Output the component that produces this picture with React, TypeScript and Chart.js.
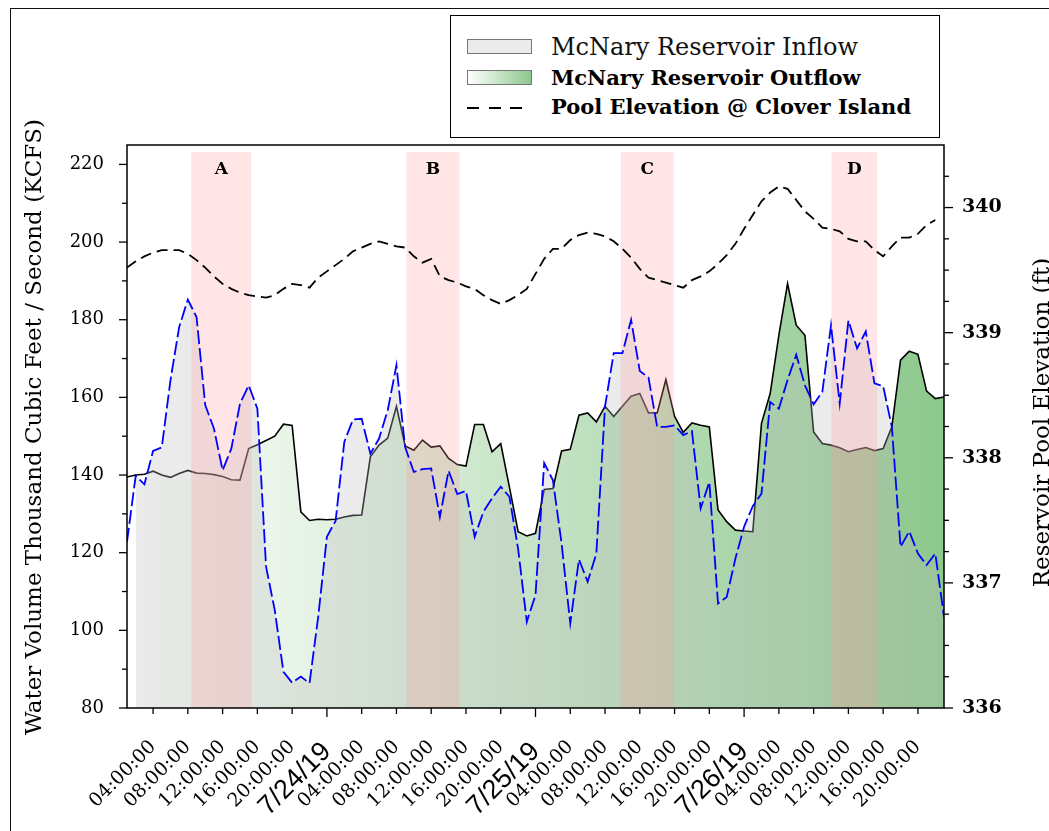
import React, { useEffect, useRef } from "react";
import { Chart, registerables } from "chart.js";

Chart.register(...registerables);

// Hourly readings; hour 1 = 7/23/19 01:00, last hour 95 = 7/26/19 23:00
const FIRST_HOUR = 1;
const LAST_HOUR = 95;

// McNary Reservoir outflow (KCFS), hours 1..95
const OUTFLOW_KCFS = [
  139.5, 140.0, 140.2, 141.0, 140.0, 139.4, 140.4, 141.2, 140.5, 140.4,
  140.1, 139.6, 138.8, 138.7, 146.8, 147.8, 148.9, 150.0, 153.1, 152.8,
  130.5, 128.3, 128.6, 128.5, 128.6, 129.2, 129.6, 129.7, 144.7, 147.7,
  149.5, 157.7, 147.5, 146.4, 149.0, 147.2, 147.5, 144.3, 142.7, 142.3,
  153.0, 153.0, 146.0, 148.1, 136.9, 125.4, 124.3, 125.0, 136.3, 136.5,
  146.2, 146.6, 155.4, 156.0, 153.7, 157.7, 155.1, 157.7, 160.3, 161.0,
  156.0, 156.0, 164.6, 155.1, 151.0, 153.4, 152.8, 152.4, 131.0, 128.0,
  125.8, 125.6, 125.4, 153.3, 161.0, 176.0, 189.3, 178.6, 176.0, 151.1,
  148.1, 147.7, 147.0, 146.0, 146.6, 147.1, 146.3, 146.8, 152.4, 169.6,
  171.9, 171.1, 161.6, 159.7, 160.1,
];

// McNary Reservoir inflow (KCFS), hours 1..95
const INFLOW_KCFS = [
  122.8, 139.8, 137.6, 146.2, 147.1, 164.4, 178.1, 185.2, 180.7, 158.0,
  152.0, 141.2, 146.8, 158.4, 163.1, 157.1, 116.4, 105.2, 89.3, 86.5,
  88.1, 86.4, 103.5, 124.1, 128.2, 148.5, 154.3, 154.5, 145.5, 149.4,
  156.7, 168.3, 147.2, 140.8, 141.5, 141.7, 129.2, 141.1, 135.1, 135.9,
  124.1, 130.5, 134.0, 137.0, 134.4, 121.0, 102.2, 109.1, 143.1, 138.7,
  122.4, 101.8, 118.3, 112.5, 119.8, 157.7, 171.4, 171.4, 180.0, 166.8,
  165.1, 152.4, 152.4, 152.8, 150.3, 151.3, 131.4, 138.2, 106.9, 108.6,
  118.5, 126.7, 132.0, 135.2, 158.8, 157.1, 164.5, 171.0, 163.1, 158.2,
  161.4, 178.6, 158.4, 179.8, 172.6, 177.0, 163.6, 162.9, 152.4, 121.5,
  125.5, 119.8, 116.8, 119.8, 103.5,
];

// Pool elevation at Clover Island (ft), hours 1..94
const POOL_ELEV_FT = [
  339.52, 339.57, 339.61, 339.64, 339.66, 339.66, 339.66, 339.63, 339.58, 339.52,
  339.45, 339.39, 339.35, 339.32, 339.30, 339.29, 339.28, 339.30, 339.35, 339.39,
  339.38, 339.36, 339.44, 339.49, 339.54, 339.59, 339.65, 339.68, 339.71, 339.73,
  339.71, 339.69, 339.68, 339.61, 339.56, 339.59, 339.45, 339.42, 339.40, 339.37,
  339.35, 339.30, 339.26, 339.23, 339.26, 339.30, 339.35, 339.47, 339.59, 339.67,
  339.67, 339.74, 339.78, 339.80, 339.79, 339.77, 339.73, 339.67, 339.60, 339.51,
  339.44, 339.42, 339.40, 339.38, 339.36, 339.42, 339.45, 339.49, 339.55, 339.62,
  339.71, 339.83, 339.94, 340.05, 340.12, 340.17, 340.15, 340.06, 339.97, 339.91,
  339.84, 339.83, 339.81, 339.75, 339.73, 339.73, 339.66, 339.61, 339.69, 339.76,
  339.76, 339.79, 339.86, 339.90,
];

// Time axis ticks (hours) and their labels
const TICK_HOURS = [4, 8, 12, 16, 20, 24, 28, 32, 36, 40, 44, 48, 52, 56, 60, 64, 68, 72, 76, 80, 84, 88, 92];
const TICK_LABELS = [
  "04:00:00", "08:00:00", "12:00:00", "16:00:00", "20:00:00", "7/24/19",
  "04:00:00", "08:00:00", "12:00:00", "16:00:00", "20:00:00", "7/25/19",
  "04:00:00", "08:00:00", "12:00:00", "16:00:00", "20:00:00", "7/26/19",
  "04:00:00", "08:00:00", "12:00:00", "16:00:00", "20:00:00",
];
const DATE_TICK_HOURS = [24, 48, 72];

const KCFS_TICKS = [80, 100, 120, 140, 160, 180, 200, 220];
const KCFS_MINOR_TICKS = [90, 110, 130, 150, 170, 190, 210];
const ELEV_TICKS = [336, 337, 338, 339, 340];
const ELEV_MINOR_TICKS = [
  336.25, 336.5, 336.75, 337.25, 337.5, 337.75, 338.25, 338.5, 338.75,
  339.25, 339.5, 339.75, 340.25,
];

// Highlighted periods A-D (hours)
const EVENT_LABELS = ["A", "B", "C", "D"];
const EVENT_START_HOURS = [8.4, 33.15, 57.8, 82.05];
const EVENT_END_HOURS = [15.3, 39.25, 63.9, 87.3];
const EVENT_BAND_TOP_KCFS = 223.2;
const EVENT_LABEL_KCFS = 218.6;

const SERIF = '"DejaVu Serif", serif';
const SANS = '"Liberation Sans", Arial, sans-serif';

const toPoints = (vals: number[], startHour: number) =>
  vals.map((v, i) => ({ x: startHour + i, y: v }));

const decorPlugin = {
  id: "decor",
  beforeDatasetDraw(chart: any, args: any) {
    const ds = chart.data.datasets[args.index];
    if (ds.role !== "inflowLine") return;
    const { ctx, chartArea, scales } = chart;
    const top = scales.y.getPixelForValue(EVENT_BAND_TOP_KCFS);
    ctx.save();
    ctx.fillStyle = "rgba(255,150,150,0.25)";
    EVENT_START_HOURS.forEach((s, i) => {
      const x0 = scales.x.getPixelForValue(s);
      const x1 = scales.x.getPixelForValue(EVENT_END_HOURS[i]);
      ctx.fillRect(x0, top, x1 - x0, chartArea.bottom - top);
    });
    ctx.restore();
  },
  afterDraw(chart: any) {
    const { ctx, chartArea: a, scales } = chart;
    const { x, y, y1 } = scales;
    ctx.save();

    // figure frame
    ctx.strokeStyle = "#111";
    ctx.lineWidth = 1;
    ctx.strokeRect(10.5, 8.5, 2000, 2000);

    // plot box
    ctx.strokeStyle = "#000";
    ctx.lineWidth = 1.5;
    ctx.strokeRect(a.left, a.top, a.right - a.left, a.bottom - a.top);

    // tick marks
    ctx.lineWidth = 1.3;
    const seg = (x0: number, y0: number, x1: number, y1p: number) => {
      ctx.beginPath();
      ctx.moveTo(x0, y0);
      ctx.lineTo(x1, y1p);
      ctx.stroke();
    };
    KCFS_TICKS.forEach((v) => { const p = y.getPixelForValue(v); seg(a.left - 8, p, a.left, p); });
    KCFS_MINOR_TICKS.forEach((v) => { const p = y.getPixelForValue(v); seg(a.left - 5, p, a.left, p); });
    ELEV_TICKS.forEach((v) => { const p = y1.getPixelForValue(v); seg(a.right, p, a.right + 9, p); });
    ELEV_MINOR_TICKS.forEach((v) => { const p = y1.getPixelForValue(v); seg(a.right, p, a.right + 5, p); });
    TICK_HOURS.forEach((h) => {
      const p = x.getPixelForValue(h);
      const len = DATE_TICK_HOURS.includes(h) ? 9 : 6;
      seg(p, a.bottom, p, a.bottom + len);
    });

    // event letters
    ctx.fillStyle = "#000";
    ctx.font = `bold 17px ${SERIF}`;
    ctx.textAlign = "center";
    ctx.textBaseline = "middle";
    EVENT_LABELS.forEach((lab, i) => {
      const cx = x.getPixelForValue((EVENT_START_HOURS[i] + EVENT_END_HOURS[i]) / 2);
      ctx.fillText(lab, cx, y.getPixelForValue(EVENT_LABEL_KCFS));
    });

    // axis titles
    ctx.font = `23px ${SERIF}`;
    ctx.textBaseline = "alphabetic";
    ctx.save();
    ctx.translate(40.5, 427);
    ctx.rotate(-Math.PI / 2);
    ctx.fillText("Water Volume Thousand Cubic Feet / Second (KCFS)", 0, 0);
    ctx.restore();
    ctx.save();
    ctx.translate(1048.5, 422.5);
    ctx.rotate(-Math.PI / 2);
    ctx.fillText("Reservoir Pool Elevation (ft)", 0, 0);
    ctx.restore();

    ctx.restore();
  },
};

export default function App() {
  const canvasRef = useRef<HTMLCanvasElement>(null);

  useEffect(() => {
    const canvas = canvasRef.current;
    if (!canvas) return;

    const outflowGradient = (c: any) => {
      const area = c.chart.chartArea;
      if (!area) return "rgba(140,200,140,0.6)";
      const g = c.chart.ctx.createLinearGradient(area.left, 0, area.right, 0);
      g.addColorStop(0, "rgb(255,255,255)");
      g.addColorStop(1, "rgb(140,200,140)");
      return g;
    };

    const chart = new Chart(canvas, {
      type: "line",
      data: {
        datasets: [
          {
            role: "outflowArea",
            label: "McNary Reservoir Outflow",
            data: toPoints(OUTFLOW_KCFS.slice(1), FIRST_HOUR + 1),
            yAxisID: "y",
            fill: "start",
            borderWidth: 0,
            borderColor: "rgba(0,0,0,0)",
            backgroundColor: outflowGradient,
            order: 6,
          },
          {
            role: "outflowLine",
            label: "McNary Reservoir Outflow",
            data: toPoints(OUTFLOW_KCFS, FIRST_HOUR),
            yAxisID: "y",
            fill: false,
            borderColor: "#000",
            borderWidth: 1.6,
            order: 5,
          },
          {
            role: "inflowArea",
            label: "McNary Reservoir Inflow",
            data: toPoints(INFLOW_KCFS.slice(1), FIRST_HOUR + 1),
            yAxisID: "y",
            fill: "start",
            borderWidth: 0,
            borderColor: "rgba(0,0,0,0)",
            backgroundColor: "rgba(190,190,190,0.3)",
            order: 4,
          },
          {
            role: "inflowLine",
            label: "McNary Reservoir Inflow",
            data: toPoints(INFLOW_KCFS, FIRST_HOUR),
            yAxisID: "y",
            fill: false,
            borderColor: "#0000ff",
            borderWidth: 1.8,
            borderDash: [14, 4],
            order: 2,
          },
          {
            role: "pool",
            label: "Pool Elevation @ Clover Island",
            data: toPoints(POOL_ELEV_FT, FIRST_HOUR),
            yAxisID: "y1",
            fill: false,
            borderColor: "#000",
            borderWidth: 1.8,
            borderDash: [11, 6],
            order: 1,
          },
        ] as any,
      },
      options: {
        responsive: false,
        animation: false,
        devicePixelRatio: 1,
        layout: { padding: { top: 145, left: 0, right: 0, bottom: 0 } },
        elements: { point: { radius: 0 }, line: { tension: 0 } },
        plugins: {
          legend: { display: false },
          tooltip: { enabled: false },
        },
        scales: {
          x: {
            type: "linear",
            min: FIRST_HOUR,
            max: LAST_HOUR,
            afterBuildTicks: (s: any) => {
              s.ticks = TICK_HOURS.map((v) => ({ value: v }));
            },
            afterFit: (s: any) => {
              s.height = 123;
            },
            grid: { display: false, drawTicks: false },
            border: { display: false },
            ticks: {
              autoSkip: false,
              minRotation: 45,
              maxRotation: 45,
              padding: 28,
              color: "#000",
              font: (c: any) =>
                c.tick && DATE_TICK_HOURS.includes(c.tick.value)
                  ? { family: SANS, size: 27 }
                  : { family: SERIF, size: 19 },
              callback: (v: any) => TICK_LABELS[TICK_HOURS.indexOf(Number(v))] ?? "",
            },
          },
          y: {
            type: "linear",
            position: "left",
            min: 80,
            max: 225,
            afterBuildTicks: (s: any) => {
              s.ticks = KCFS_TICKS.map((v) => ({ value: v }));
            },
            afterFit: (s: any) => {
              s.width = 127;
            },
            grid: { display: false, drawTicks: false },
            border: { display: false },
            ticks: { padding: 23, color: "#000", font: { family: SERIF, size: 18 } },
          },
          y1: {
            type: "linear",
            position: "right",
            min: 336,
            max: 340.5,
            afterBuildTicks: (s: any) => {
              s.ticks = ELEV_TICKS.map((v) => ({ value: v }));
            },
            afterFit: (s: any) => {
              s.width = 105;
            },
            grid: { display: false, drawTicks: false },
            border: { display: false },
            ticks: { padding: 18, color: "#000", font: { family: SERIF, size: 19, weight: "bold" } },
          },
        },
      } as any,
      plugins: [decorPlugin],
    });

    return () => chart.destroy();
  }, []);

  const legendText = { position: "absolute" as const, left: 100, lineHeight: 1, whiteSpace: "nowrap" as const, color: "#000" };

  return (
    <div style={{ position: "absolute", left: 0, top: 0, width: 1049, height: 831, background: "#fff", overflow: "hidden" }}>
      <canvas ref={canvasRef} width={1049} height={831} style={{ display: "block" }} />
      <div
        style={{
          position: "absolute",
          left: 450,
          top: 15,
          width: 490,
          height: 123,
          border: "1.5px solid #000",
          boxSizing: "border-box",
          background: "#fff",
        }}
      >
        <div style={{ position: "absolute", left: 16, top: 23, width: 63, height: 13, background: "#ebebeb", border: "1px solid #777" }} />
        <div style={{ ...legendText, top: 19, fontFamily: SERIF, fontSize: 24, color: "#111" }}>McNary Reservoir Inflow</div>
        <div
          style={{
            position: "absolute",
            left: 16,
            top: 54,
            width: 63,
            height: 13,
            background: "linear-gradient(to right, #ffffff, rgb(140,200,140))",
            border: "1px solid #777",
          }}
        />
        <div style={{ ...legendText, top: 51, fontFamily: SERIF, fontSize: 21, fontWeight: "bold" }}>McNary Reservoir Outflow</div>
        {[0, 1, 2].map((i) => (
          <div key={i} style={{ position: "absolute", left: 16 + i * 21.5, top: 91, width: 12, height: 2, background: "#000" }} />
        ))}
        <div style={{ ...legendText, top: 80, fontFamily: SERIF, fontSize: 21, fontWeight: "bold" }}>Pool Elevation @ Clover Island</div>
      </div>
    </div>
  );
}
